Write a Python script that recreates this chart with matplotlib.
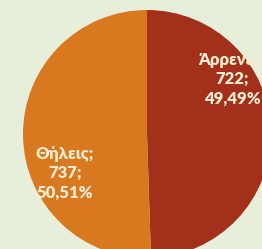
import matplotlib
matplotlib.use("Agg")
import matplotlib.pyplot as plt

# data
categories = ["Άρρενες", "Θήλεις"]
counts = [722, 737]
colors = ["#A3301A", "#D9791F"]

plt.rcParams['font.family'] = ['Lato', 'DejaVu Sans']

fig = plt.figure(figsize=(2.62, 2.49), dpi=100)
fig.patch.set_facecolor("#E7EFDA")
ax = fig.add_axes([0, 0, 1, 1])
ax.set_facecolor("#E7EFDA")

# pie in pixel-like coords (y up)
cx, cy, r = 147, 249 - 134, 124
wedges, _ = ax.pie(counts, colors=colors, startangle=90, counterclock=False,
                   center=(cx, cy), radius=r, frame=True,
                   wedgeprops=dict(linewidth=0))
ax.set_xlim(0, 262)
ax.set_ylim(0, 249)
ax.axis("off")

# labels: name; value; percentage (comma decimal), clipped to the slice
total = sum(counts)
label_pos = [(232, 249 - 79), (65, 249 - 173)]
for w, name, val, (lx, ly) in zip(wedges, categories, counts, label_pos):
    pct = f"{100 * val / total:.2f}".replace(".", ",")
    t = ax.text(lx, ly, f"{name};\n{val};\n{pct}%", ha="center", va="center",
                fontsize=12, fontweight="heavy", color="#F5EBD0",
                linespacing=1.25, clip_on=True)
    t.set_clip_path(w)

fig.savefig("out.png", dpi=100, facecolor=fig.get_facecolor())
